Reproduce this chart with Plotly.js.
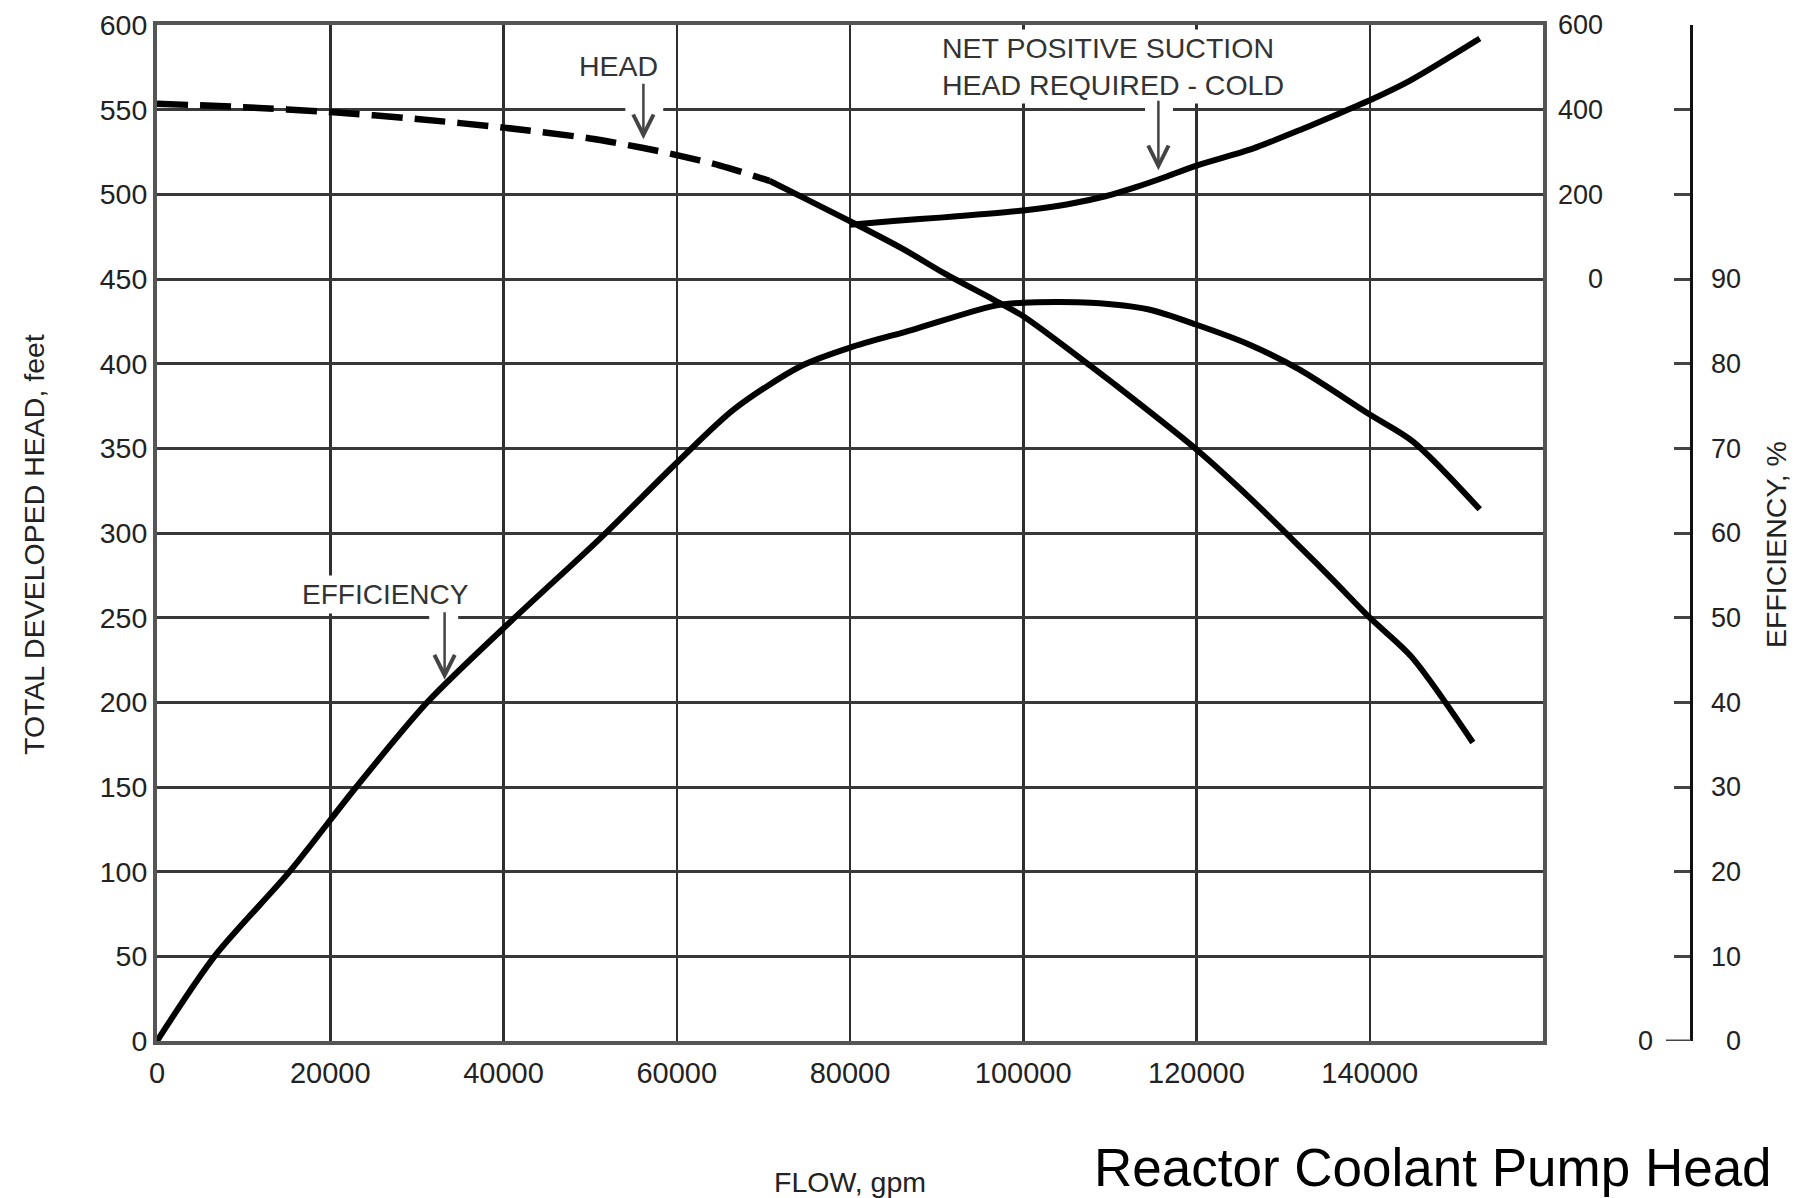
<!DOCTYPE html>
<html>
<head>
<meta charset="utf-8">
<script src="https://cdn.plot.ly/plotly-3.0.1.min.js"></script>
<style>html,body{margin:0;padding:0;background:#fff;}#chart{width:1807px;height:1198px;}</style>
</head>
<body>
<div id="chart"></div>
<script>
// ---- data ----
const flowHeadDashed = [0, 10000, 20000, 30000, 40000, 50000, 56000, 60000, 65000, 70700];
const headDashed     = [553.5, 551.5, 548.6, 544.5, 539.4, 533, 527.5, 523.2, 517, 508];

const flowHeadSolid = [70700, 75000, 81200, 86200, 91000, 96500, 100000, 107800, 113000, 120000, 126000, 131900, 136000, 140000, 144800, 151900];
const headSolid     = [508, 497, 481, 467.5, 453, 438, 428, 398.5, 378, 349.3, 321.5, 292, 271, 250, 227, 176.3];

const flowEff = [0, 6640, 15300, 23000, 31200, 41300, 51200, 60000, 66600, 74300, 80000, 87200, 96500, 100000, 107800, 114500, 120000, 126000, 131900, 140000, 145000, 152700];
const effPct  = [0, 10, 20, 30, 40, 50, 59.4, 68.3, 74.6, 79.7, 81.9, 84.0, 86.8, 87.2, 87.2, 86.4, 84.6, 82.3, 79.3, 74.0, 70.8, 62.8];

const flowNpsh = [80000, 85000, 90400, 100000, 105000, 109600, 113000, 116000, 120000, 126500, 131700, 136000, 140200, 144600, 152700];
const npshFt   = [128, 137, 145, 162, 176, 196, 217, 238, 268, 308, 350, 387, 424, 468, 568];

// ---- tick labels ----
const flowTicks    = [0, 20000, 40000, 60000, 80000, 100000, 120000, 140000];
const flowTickText = ['0', '20000', '40000', '60000', '80000', '100000', '120000', '140000'];
const headTicks    = [0, 50, 100, 150, 200, 250, 300, 350, 400, 450, 500, 550, 600];
const npshTicks    = [0, 200, 400, 600];
const effTickMarks = [0, 10, 20, 30, 40, 50, 60, 70, 80, 90, 100, 110, 120];
const effTicks     = [0, 10, 20, 30, 40, 50, 60, 70, 80, 90];

const FONT = 'Liberation Sans, Arial, Helvetica, sans-serif';
const W = 1807, H = 1198, ML = 157, MR = 7, MT = 25, MB = 157;
const PW = W - ML - MR;          // paper width
const PH = H - MT - MB;          // plot height
const px = p => (p - ML) / PW;   // pixel -> paper x
const py = p => (H - MB - p) / PH; // pixel -> paper y

const lineStyle = {color: '#000', width: 6, shape: 'spline', smoothing: 0.8};

const traces = [
  {x: flowHeadDashed, y: headDashed, mode: 'lines', line: {color: '#000', width: 6.5, dash: '31px,12px', shape: 'spline', smoothing: 0.8}, hoverinfo: 'skip'},
  {x: flowHeadSolid, y: headSolid, mode: 'lines', line: lineStyle, hoverinfo: 'skip'},
  {x: flowEff, y: effPct, mode: 'lines', line: lineStyle, yaxis: 'y3', hoverinfo: 'skip'},
  {x: flowNpsh, y: npshFt, mode: 'lines', line: lineStyle, yaxis: 'y2', hoverinfo: 'skip'},
  {x: [], y: [], mode: 'lines', yaxis: 'y4', hoverinfo: 'skip'}
];

const tickFont = {family: FONT, size: 29, color: '#222'};
const sideFont = {family: FONT, size: 27, color: '#222'};
const annFont = {family: FONT, size: 28.5, color: '#333'};

const layout = {
  width: W, height: H,
  margin: {l: ML, r: MR, t: MT, b: MB, pad: 0},
  paper_bgcolor: '#fff', plot_bgcolor: '#fff',
  showlegend: false,
  font: {family: FONT, color: '#222'},
  xaxis: {
    domain: [0, px(1543)],
    range: [0, 160000],
    tickmode: 'array', tickvals: flowTicks, ticktext: flowTickText,
    ticks: '', tickfont: tickFont, ticklabelstandoff: 3,
    showgrid: true, gridcolor: '#2e2e2e', gridwidth: 2.5,
    showline: true, mirror: true, linecolor: '#555', linewidth: 4,
    zeroline: false,
    title: {text: 'FLOW, gpm', font: {family: FONT, size: 28.5, color: '#222'}, standoff: 88}
  },
  yaxis: {
    range: [0, 600],
    tickmode: 'array', tickvals: headTicks,
    ticks: '', tickfont: {family: FONT, size: 28.5, color: '#222'}, ticklabelstandoff: 0,
    showgrid: true, gridcolor: '#383838', gridwidth: 3,
    showline: true, mirror: true, linecolor: '#555', linewidth: 4,
    zeroline: false
  },
  yaxis2: {
    overlaying: 'y', anchor: 'free', position: px(1603), side: 'left',
    range: [-1800, 600],
    tickmode: 'array', tickvals: npshTicks,
    ticks: '', tickfont: sideFont,
    showgrid: false, zeroline: false, showline: false
  },
  yaxis3: {
    overlaying: 'y', anchor: 'free', position: px(1691), side: 'right',
    range: [0, 120],
    tickmode: 'array', tickvals: effTickMarks,
    ticks: 'inside', ticklen: 16, tickwidth: 3, tickcolor: '#444',
    showticklabels: false,
    showline: true, linecolor: '#111', linewidth: 3,
    showgrid: false, zeroline: false
  },
  yaxis4: {
    overlaying: 'y', anchor: 'free', position: px(1741), side: 'left',
    range: [0, 120],
    tickmode: 'array', tickvals: effTicks,
    ticks: '', tickfont: sideFont,
    showline: false, showgrid: false, zeroline: false
  },
  shapes: [
    {type: 'rect', layer: 'between', xref: 'x', yref: 'y', x0: 54060, x1: 58440, y0: 547.2, y1: 552.8, fillcolor: '#fff', line: {width: 0}},
    {type: 'rect', layer: 'between', xref: 'x', yref: 'y', x0: 114060, x1: 117290, y0: 547.2, y1: 552.8, fillcolor: '#fff', line: {width: 0}},
    {type: 'rect', layer: 'between', xref: 'x', yref: 'y', x0: 31420, x1: 34770, y0: 247.2, y1: 252.8, fillcolor: '#fff', line: {width: 0}},
    {type: 'line', xref: 'paper', yref: 'y', x0: px(1666), x1: px(1691), y0: 0, y1: 0, line: {color: '#444', width: 3}}
  ],
  annotations: [
    {xref: 'x', yref: 'y', x: 53240, y: 575.8, text: 'HEAD', showarrow: false, font: annFont},
    {xref: 'x', yref: 'y', x: 90300, y: 575.2, xanchor: 'left', align: 'left',
     text: 'NET POSITIVE SUCTION<br>HEAD REQUIRED - COLD', showarrow: false, font: annFont, bgcolor: '#fff', borderpad: 2},
    {xref: 'x', yref: 'y', x: 26350, y: 263.9, text: 'EFFICIENCY', showarrow: false, font: {family: FONT, size: 28, color: '#333'}, bgcolor: '#fff', borderpad: 3},
    {xref: 'x', yref: 'y', x: 56150, y: 532.5, text: '', showarrow: true, ax: 0, ay: -57, arrowhead: 5, arrowsize: 1.6, arrowwidth: 2.5, arrowcolor: '#444'},
    {xref: 'x', yref: 'y', x: 115600, y: 514.2, text: '', showarrow: true, ax: 0, ay: -71, arrowhead: 5, arrowsize: 1.6, arrowwidth: 2.5, arrowcolor: '#444'},
    {xref: 'x', yref: 'y', x: 33200, y: 213.4, text: '', showarrow: true, ax: 0, ay: -69, arrowhead: 5, arrowsize: 1.6, arrowwidth: 2.5, arrowcolor: '#444'},
    {xref: 'paper', yref: 'y', x: px(1655), y: 0, text: '0', showarrow: false, font: sideFont},
    {xref: 'paper', yref: 'paper', x: px(1794), y: py(545), text: 'EFFICIENCY, %', textangle: -90, showarrow: false, font: {family: FONT, size: 28.5, color: '#222'}},
    {xref: 'paper', yref: 'paper', x: px(16), y: py(545), text: 'TOTAL DEVELOPED HEAD, feet', textangle: -90, showarrow: false, font: {family: FONT, size: 28.5, color: '#222'}},
    {xref: 'paper', yref: 'paper', x: px(1092), y: py(1136), xanchor: 'left', yanchor: 'top', text: 'Reactor Coolant Pump Head', showarrow: false, font: {family: FONT, size: 53, color: '#000'}}
  ]
};

Plotly.newPlot('chart', traces, layout, {displayModeBar: false, staticPlot: true});
</script>
</body>
</html>
